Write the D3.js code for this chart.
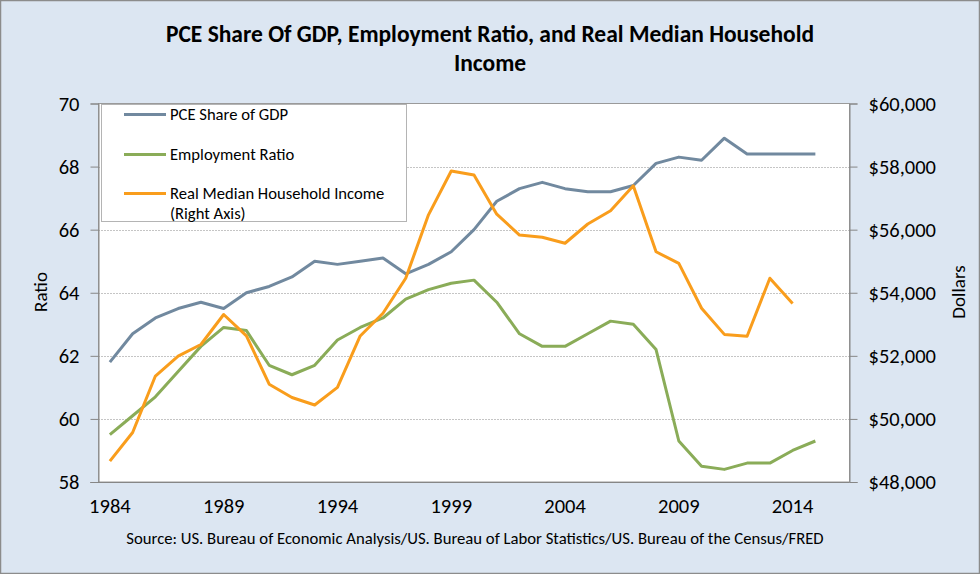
<!DOCTYPE html>
<html><head><meta charset="utf-8">
<script src="https://cdn.jsdelivr.net/npm/d3@7"></script>
<style>
html,body{margin:0;padding:0;background:#dce6f2;}
svg{display:block;}
text{font-family:Carlito, Lato, "Open Sans", sans-serif;fill:#000;}
</style></head>
<body>
<svg id="chart" width="980" height="574"></svg>
<script>
const years = d3.range(1984, 2017);
const tickYears = [1984, 1989, 1994, 1999, 2004, 2009, 2014];
const pceShare = [61.8,62.7,63.2,63.5,63.7,63.5,64.0,64.2,64.5,65.0,64.9,65.0,65.1,64.6,64.9,65.3,66.0,66.9,67.3,67.5,67.3,67.2,67.2,67.4,68.1,68.3,68.2,68.9,68.4,68.4,68.4,68.4];
const employmentRatio = [59.5,60.1,60.7,61.5,62.3,62.9,62.8,61.7,61.4,61.7,62.5,62.9,63.2,63.8,64.1,64.3,64.4,63.7,62.7,62.3,62.3,62.7,63.1,63.0,62.2,59.3,58.5,58.4,58.6,58.6,59.0,59.3];
const medianIncome = [48660,49570,51360,51990,52360,53310,52630,51100,50680,50440,51000,52630,53350,54460,56470,57860,57730,56490,55830,55760,55570,56180,56600,57390,55300,54930,53510,52680,52620,54460,53660];
const leftTicks = [58,60,62,64,66,68,70];
const rightTicks = [48000,50000,52000,54000,56000,58000,60000];
const seriesNames = ["PCE Share of GDP","Employment Ratio","Real Median Household Income"];
const colors = ["#71899f","#8aac58","#f99d1c"];

const svg = d3.select("#chart");
const W = 980, H = 574;
const m = {left:98.5, right:849.5, top:103.5, bottom:482};

svg.append("rect").attr("x",0.5).attr("y",0.5).attr("width",W-1).attr("height",H-1)
  .attr("fill","#dce6f2").attr("stroke","#8c8c8c").attr("stroke-width",1.5);

const x = d3.scaleBand().domain(years).range([m.left, m.right]);
const xp = d => x(d) + x.bandwidth()/2;
const yL = d3.scaleLinear().domain([58,70]).range([m.bottom, m.top]);
const yR = d3.scaleLinear().domain([48000,60000]).range([m.bottom, m.top]);

// plot area
svg.append("rect").attr("x",m.left).attr("y",m.top).attr("width",m.right-m.left).attr("height",m.bottom-m.top)
  .attr("fill","#fff").attr("stroke","#9a9a9a").attr("stroke-width",1);

// gridlines
svg.append("g").selectAll("line").data(leftTicks.filter(t=>t>58&&t<70)).join("line")
  .attr("x1",m.left).attr("x2",m.right).attr("y1",d=>Math.round(yL(d))+0.5).attr("y2",d=>Math.round(yL(d))+0.5)
  .attr("stroke","#8a8a8a").attr("stroke-width",1).attr("stroke-dasharray","1,2");

const tickFont = "20.5px";
// left axis
const gL = svg.append("g").attr("transform",`translate(${m.left},0)`)
  .call(d3.axisLeft(yL).tickValues(leftTicks).tickSize(8).tickPadding(11).tickFormat(d3.format("d")));
gL.selectAll("path,line").attr("stroke","#868686");
gL.selectAll("text").attr("font-size",tickFont).attr("font-family","Carlito, Lato, sans-serif");

// right axis
const gR = svg.append("g").attr("transform",`translate(${m.right},0)`)
  .call(d3.axisRight(yR).tickValues(rightTicks).tickSize(8).tickPadding(11).tickFormat(d=>"$"+d3.format(",")(d)));
gR.selectAll("path,line").attr("stroke","#868686");
gR.selectAll("text").attr("font-size",tickFont).attr("font-family","Carlito, Lato, sans-serif");

// bottom axis
const gB = svg.append("g").attr("transform",`translate(0,${m.bottom})`)
  .call(d3.axisBottom(x).tickValues(tickYears).tickSize(0).tickPadding(16));
gB.select("path").attr("stroke","#868686").attr("d",`M${m.left-8},0.5H${m.right}`);
gB.selectAll("text").attr("font-size",tickFont).attr("font-family","Carlito, Lato, sans-serif");

// lines
const lineL = d3.line().x((d,i)=>xp(years[i])).y(d=>yL(d));
const lineR = d3.line().x((d,i)=>xp(years[i])).y(d=>yR(d));
svg.append("path").datum(pceShare).attr("d",lineL).attr("fill","none").attr("stroke",colors[0]).attr("stroke-width",3).attr("stroke-linejoin","round");
svg.append("path").datum(employmentRatio).attr("d",lineL).attr("fill","none").attr("stroke",colors[1]).attr("stroke-width",3).attr("stroke-linejoin","round");
svg.append("path").datum(medianIncome).attr("d",lineR).attr("fill","none").attr("stroke",colors[2]).attr("stroke-width",3).attr("stroke-linejoin","round");

// legend
const lg = svg.append("g");
lg.append("rect").attr("x",101.5).attr("y",104.5).attr("width",305).attr("height",117)
  .attr("fill","#fff").attr("stroke","#b4b4b4");
const rows = [114.5, 154.5, 193.5];
seriesNames.forEach((n,i)=>{
  lg.append("line").attr("x1",124).attr("x2",166).attr("y1",rows[i]).attr("y2",rows[i])
    .attr("stroke",colors[i]).attr("stroke-width",3);
  lg.append("text").attr("x",170).attr("y",rows[i]).attr("dy","0.35em").attr("font-size","16.6px").text(n);
});
lg.append("text").attr("x",170).attr("y",213.5).attr("dy","0.35em").attr("font-size","16.6px").text("(Right Axis)");

// axis titles
svg.append("text").attr("transform","translate(40,292) rotate(-90)").attr("text-anchor","middle").attr("dy","0.35em")
  .attr("font-size","19px").text("Ratio");
svg.append("text").attr("transform","translate(958,292) rotate(-90)").attr("text-anchor","middle").attr("dy","0.35em")
  .attr("font-size","19px").text("Dollars");

// title
svg.append("text").attr("x",490).attr("y",34).attr("text-anchor","middle").attr("dy","0.35em")
  .attr("font-size","23.5px").attr("font-weight","bold").text("PCE Share Of GDP, Employment Ratio, and Real Median Household");
svg.append("text").attr("x",490).attr("y",63).attr("text-anchor","middle").attr("dy","0.35em")
  .attr("font-size","23.5px").attr("font-weight","bold").text("Income");

// source
svg.append("text").attr("x",475).attr("y",538).attr("text-anchor","middle").attr("dy","0.35em")
  .attr("font-size","16.7px").text("Source: US. Bureau of Economic Analysis/US. Bureau of Labor Statistics/US. Bureau of the Census/FRED");
</script>
</body></html>
